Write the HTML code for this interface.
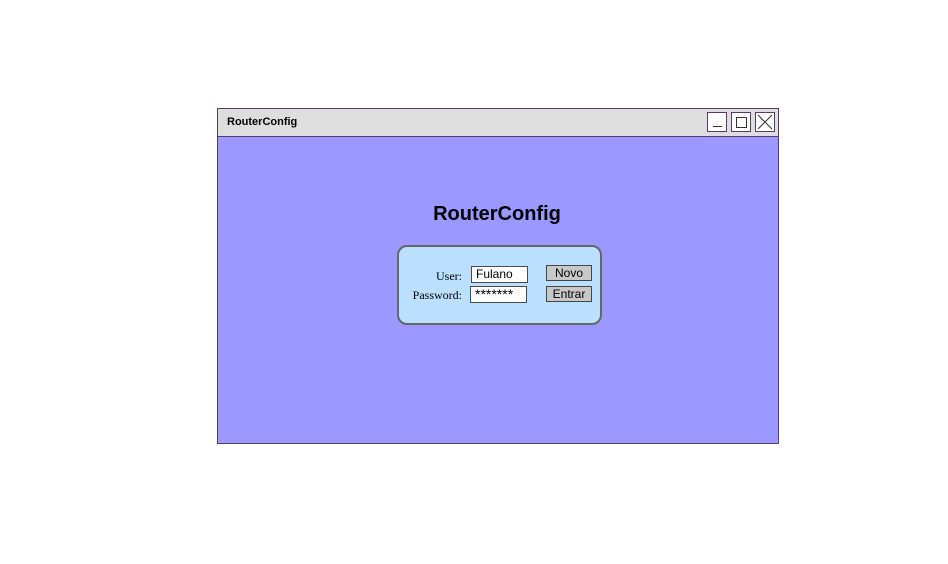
<!DOCTYPE html>
<html><head><style>
body{margin:0;width:948px;height:564px;background:#fff;position:relative;overflow:hidden;font-family:"Comic Sans MS","Liberation Sans",sans-serif}
.a{position:absolute;box-sizing:border-box}
.wb{border:1px solid #4a4a4a;background:#fff}
</style></head><body>
<div class="a" style="left:217px;top:108px;width:562px;height:336px;background:#9b98ff;border:1px solid #5a3a6a"></div>
<div class="a" style="left:217px;top:108px;width:562px;height:29px;background:#dedede;border:1px solid #5a3a6a"></div>
<div class="a" style="left:227px;top:116px;font-size:11px;font-weight:bold;color:#000">RouterConfig</div>
<div class="a wb" style="left:707px;top:112px;width:20px;height:20px;border-color:#5a3a6a"><div class="a" style="left:5px;top:13px;width:9px;height:1px;background:#333"></div></div>
<div class="a wb" style="left:731px;top:112px;width:20px;height:20px;border-color:#5a3a6a"><div class="a" style="left:4px;top:4px;width:11px;height:11px;border:1px solid #333"></div></div>
<div class="a wb" style="left:755px;top:112px;width:20px;height:20px;border-color:#5a3a6a"><svg width="18" height="18" style="position:absolute;left:0;top:0"><path d="M2 2L16 16M16 2L2 16" stroke="#333" stroke-width="1"/></svg></div>
<div class="a" style="left:380px;top:203px;width:234px;text-align:center;font-family:'Liberation Sans',sans-serif;font-weight:bold;font-size:20px">RouterConfig</div>
<div class="a" style="left:397px;top:245px;width:205px;height:80px;background:#bbdffe;border:2px solid #666;border-radius:10px"></div>
<div class="a" style="left:400px;top:269px;width:62px;text-align:right;font-family:'Liberation Serif',serif;font-size:12px">User:</div>
<div class="a" style="left:400px;top:288px;width:62px;text-align:right;font-family:'Liberation Serif',serif;font-size:12px">Password:</div>
<div class="a wb" style="left:471px;top:266px;width:57px;height:17px;font-size:12px;padding-left:4px;line-height:14px">Fulano</div>
<div class="a wb" style="left:470px;top:286px;width:57px;height:17px;font-size:14px;padding-left:4px;line-height:15px">*******</div>
<div class="a" style="left:546px;top:265px;width:46px;height:16px;background:#c8c8c8;border:1px solid #444;font-size:12px;text-align:center;line-height:14px">Novo</div>
<div class="a" style="left:546px;top:286px;width:46px;height:16px;background:#c8c8c8;border:1px solid #444;font-size:12px;text-align:center;line-height:14px">Entrar</div>
</body></html>
